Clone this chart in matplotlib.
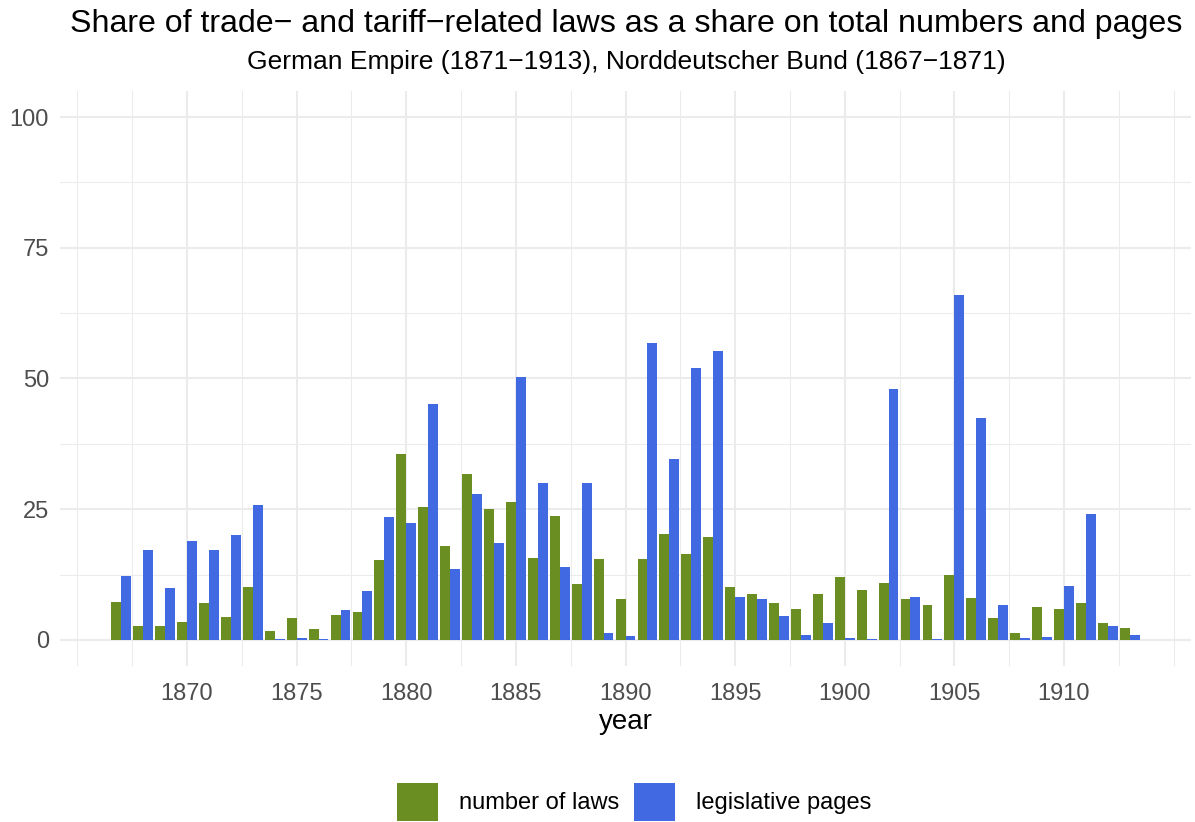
import numpy as np
import matplotlib
matplotlib.use("Agg")
import matplotlib.pyplot as plt
from matplotlib.patches import Patch
from matplotlib.ticker import MultipleLocator

plt.rcParams["font.family"] = ["Liberation Sans", "DejaVu Sans"]

# Data (share in %)
years = list(range(1867, 1914))
number_of_laws = [
    7.3, 2.7, 2.7, 3.4, 7.1, 4.4, 10.1, 1.7, 4.2, 2.1,
    4.8, 5.4, 15.3, 35.6, 25.4, 18.0, 31.7, 25.0, 26.4, 15.7,
    23.7, 10.7, 15.5, 7.8, 15.5, 20.3, 16.4, 19.7, 10.1, 8.8,
    7.1, 5.9, 8.8, 12.0, 9.6, 10.9, 7.8, 6.7, 12.4, 8.0,
    4.2, 1.3, 6.3, 5.9, 7.1, 3.3, 2.3,
]
legislative_pages = [
    12.2, 17.2, 9.9, 18.9, 17.2, 20.1, 25.8, 0.1, 0.4, 0.1,
    5.7, 9.4, 23.5, 22.4, 45.1, 13.6, 27.9, 18.5, 50.2, 30.0,
    14.0, 30.0, 1.3, 0.8, 56.8, 34.6, 52.0, 55.3, 8.2, 7.8,
    4.6, 1.0, 3.3, 0.4, 0.2, 48.0, 8.2, 0.1, 66.0, 42.4,
    6.7, 0.4, 0.6, 10.3, 24.1, 2.7, 0.9,
]
series_labels = ["number of laws", "legislative pages"]
series_colors = ["#6B8E23", "#4169E1"]

W, H = 1195, 822
fig = plt.figure(figsize=(W / 100, H / 100), dpi=100)
ax = fig.add_axes([60 / W, 1 - 666 / H, (1191 - 60) / W, (666 - 91) / H])

x = np.array(years)
bw = 0.45
ax.bar(x - bw / 2, number_of_laws, width=bw, color=series_colors[0], linewidth=0, zorder=3)
ax.bar(x + bw / 2, legislative_pages, width=bw, color=series_colors[1], linewidth=0, zorder=3)

# ggplot-like limits (5% expansion)
lo, hi = x.min() - bw, x.max() + bw
pad = (hi - lo) * 0.05
ax.set_xlim(lo - pad, hi + pad)
ax.set_ylim(-5, 105)

ax.xaxis.set_major_locator(MultipleLocator(5))
ax.xaxis.set_minor_locator(MultipleLocator(2.5))
ax.yaxis.set_major_locator(MultipleLocator(25))
ax.yaxis.set_minor_locator(MultipleLocator(12.5))
ax.set_yticks([0, 25, 50, 75, 100])
ax.grid(which="major", color="#EBEBEB", linewidth=1.5, zorder=0)
ax.grid(which="minor", color="#EBEBEB", linewidth=0.75, zorder=0)
for s in ax.spines.values():
    s.set_visible(False)
ax.tick_params(which="both", length=0, labelsize=17, labelcolor="#4D4D4D")
ax.tick_params(axis="x", pad=12)
ax.tick_params(axis="y", pad=8)
ax.set_xticks([1870, 1875, 1880, 1885, 1890, 1895, 1900, 1905, 1910])
ax.set_xlabel("year", fontsize=20, labelpad=3)

cx = 626 / W
fig.text(cx, 1 - 24 / H, "Share of trade\u2212 and tariff\u2212related laws as a share on total numbers and pages",
         ha="center", va="center", fontsize=23.1)
fig.text(cx, 1 - 62 / H, "German Empire (1871\u22121913), Norddeutscher Bund (1867\u22121871)",
         ha="center", va="center", fontsize=19)

handles = [Patch(facecolor=c, edgecolor="none", label=l) for c, l in zip(series_colors, series_labels)]
fig.legend(handles=handles, loc="center", bbox_to_anchor=(634 / W, 1 - 802 / H), ncol=2,
           frameon=False, fontsize=17, handlelength=1.75, handleheight=2.1,
           handletextpad=0.9, columnspacing=0.6, borderaxespad=0)

fig.savefig("out.png", dpi=100)
